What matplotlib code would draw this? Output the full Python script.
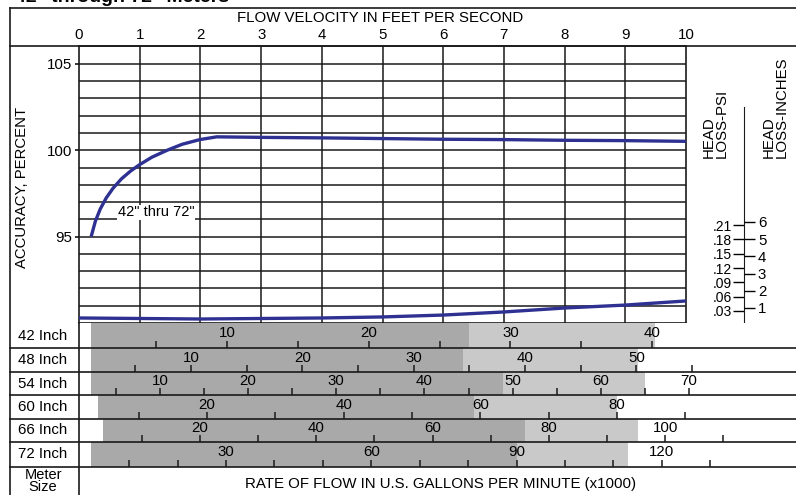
import matplotlib.pyplot as plt
from matplotlib.lines import Line2D

plt.rcParams['font.family'] = ['Liberation Sans', 'DejaVu Sans']

# accuracy curve (42" thru 72")
vel = [0.2, 0.27, 0.35, 0.45, 0.56, 0.7, 0.85, 0.99, 1.2, 1.45, 1.7, 1.99, 2.27,
       3, 4, 5, 6, 7, 8, 9, 10]
accuracy = [95.0, 95.9, 96.6, 97.25, 97.8, 98.35, 98.8, 99.15, 99.6, 100.0,
            100.35, 100.62, 100.78, 100.75, 100.72, 100.68, 100.64, 100.62,
            100.58, 100.56, 100.52]

# head loss curve, inches
hl_vel = [0, 1, 2, 3, 4, 5, 6, 7, 8, 9, 10]
head_loss = [0.42, 0.39, 0.36, 0.39, 0.42, 0.48, 0.59, 0.77, 1.0, 1.17, 1.41]

psi_ticks = [0.03, 0.06, 0.09, 0.12, 0.15, 0.18, 0.21]
psi_labels = ['.03', '.06', '.09', '.12', '.15', '.18', '.21']
inch_ticks = [1, 2, 3, 4, 5, 6]

# flow rate rows (x1000 gpm)
meters = ['42 Inch', '48 Inch', '54 Inch', '60 Inch', '66 Inch', '72 Inch']
row_xlim = [(-0.44, 50.15), (-0.04, 64.32), (0.82, 82.14),
            (1.27, 106.2), (-0.82, 122.5), (-0.35, 147.7)]
band_start = [0.4, 1.03, 2.18, 4.05, 3.31, 2.13]
dark_end = [27.1, 34.4, 48.9, 59.1, 75.9, 90.1]
light_end = [40.2, 50.1, 65.0, 80.0, 95.4, 113.0]
minor_step = [5, 5, 5, 10, 10, 10]
tick_max = [40, 55, 70, 90, 110, 130]
label_step = [10, 10, 10, 20, 20, 30]
label_max = [40, 50, 70, 80, 100, 120]

W, H = 796, 495
blue = '#2e3192'
dark_gray = '#a9a9a9'
light_gray = '#c9c9c9'
lc = '#1a1a1a'
fs = 10.8


def box(x0, y0, x1, y1):
    return [x0 / W, 1 - y1 / H, (x1 - x0) / W, (y1 - y0) / H]


def hline(y, x0=10, x1=W):
    fig.add_artist(Line2D([x0 / W, x1 / W], [1 - y / H, 1 - y / H], color=lc, lw=1.2))


def vline(x, y0, y1):
    fig.add_artist(Line2D([x / W, x / W], [1 - y0 / H, 1 - y1 / H], color=lc, lw=1.2))


fig = plt.figure(figsize=(W / 100, H / 100), dpi=100)

# main accuracy chart
ax = fig.add_axes(box(79, 46, 686, 323))
ax.set_xlim(0, 10)
ax.set_ylim(90, 106.04)
for y in range(91, 106):
    ax.axhline(y, color=lc, lw=1.1)
for x in range(1, 10):
    ax.axvline(x, color=lc, lw=1.1)
for s in ax.spines.values():
    s.set_color(lc)
    s.set_linewidth(1.2)
ax.set_xticks(range(11))
ax.tick_params(axis='x', top=True, labeltop=True, bottom=False, labelbottom=False,
               length=0, pad=3, labelsize=fs)
ax.set_yticks([95, 100, 105])
ax.tick_params(axis='y', length=3, width=1.1, pad=2, labelsize=fs)
ax.plot(vel, accuracy, color=blue, lw=2.4, solid_capstyle='butt', zorder=5)
ax.text(1.27, 96.4, '42" thru 72"', fontsize=10.5, ha='center', va='center',
        bbox=dict(facecolor='white', edgecolor='none', pad=0.3), zorder=4)

axh = ax.twinx()
axh.set_ylim(0.128, 16.23)
axh.axis('off')
axh.plot(hl_vel, head_loss, color=blue, lw=2.4, zorder=5)

# head loss scale
axs = fig.add_axes(box(744, 46, 796, 323))
axs.set_ylim(0.128, 16.23)
axs.patch.set_visible(False)
for k in ['top', 'right', 'bottom']:
    axs.spines[k].set_visible(False)
axs.spines['left'].set_bounds(0.128, 12.69)
axs.spines['left'].set_color(lc)
axs.set_xticks([])
axs.set_yticks([p * 27.7 for p in psi_ticks])
axs.set_yticklabels(psi_labels)
axs.tick_params(axis='y', length=8, width=1, pad=1, labelsize=10)
axi = axs.twinx()
axi.set_ylim(0.128, 16.23)
for k in ['top', 'left', 'bottom']:
    axi.spines[k].set_visible(False)
axi.spines['right'].set_visible(False)
axi.spines['right'].set_position(('axes', 0))
axi.set_yticks(inch_ticks)
axi.tick_params(axis='y', right=True, left=False, direction='out', length=8,
                width=1, pad=2, labelsize=fs)
axi.set_xticks([])

fig.text(715 / W, 1 - 158 / H, 'HEAD\nLOSS-PSI', rotation=90, fontsize=fs,
         ha='center', va='bottom', multialignment='left', linespacing=0.95)
fig.text(775 / W, 1 - 158 / H, 'HEAD\nLOSS-INCHES', rotation=90, fontsize=fs,
         ha='center', va='bottom', multialignment='left', linespacing=0.95)

# flow rate rows
row_tops = [323, 348, 372, 395, 419, 442]
row_bots = [348, 372, 395, 419, 442, 467]
for i, name in enumerate(meters):
    r = fig.add_axes(box(79, row_tops[i], W, row_bots[i]))
    r.set_xlim(*row_xlim[i])
    r.set_ylim(0, 1)
    r.axvspan(band_start[i], dark_end[i], color=dark_gray, lw=0)
    r.axvspan(dark_end[i], light_end[i], color=light_gray, lw=0)
    for k in ['top', 'right', 'left', 'bottom']:
        r.spines[k].set_visible(False)
    r.set_yticks([])
    r.set_xticks(range(minor_step[i], tick_max[i] + 1, minor_step[i]))
    r.tick_params(axis='x', direction='in', length=5, width=1.1, color=lc,
                  labelbottom=False)
    for q in range(label_step[i], label_max[i] + 1, label_step[i]):
        r.text(q, 0.6, str(q), ha='center', va='center', fontsize=fs)
    fig.text(43 / W, 1 - (row_tops[i] + row_bots[i]) / 2 / H, name,
             ha='center', va='center', fontsize=fs)

fig.text(43 / W, 1 - 481 / H, 'Meter\nSize', ha='center', va='center',
         fontsize=10.5, linespacing=0.85)
fig.text(441 / W, 1 - 484 / H, 'RATE OF FLOW IN U.S. GALLONS PER MINUTE (x1000)',
         ha='center', va='center', fontsize=fs)

# frame and table lines
hline(8)
hline(46)
for y in row_bots:
    hline(y)
vline(10, 8, H)
vline(79, 323, H)

fig.text(380 / W, 1 - 18 / H, 'FLOW VELOCITY IN FEET PER SECOND',
         ha='center', va='center', fontsize=fs)
fig.text(22 / W, 1 - 187 / H, 'ACCURACY, PERCENT', rotation=90,
         ha='center', va='center', fontsize=10.7)
fig.text(15 / W, 1 - 2.5 / H, '42" through 72" Meters', fontweight='bold',
         fontsize=14, ha='left', va='baseline')

fig.savefig('out.png', dpi=100)
